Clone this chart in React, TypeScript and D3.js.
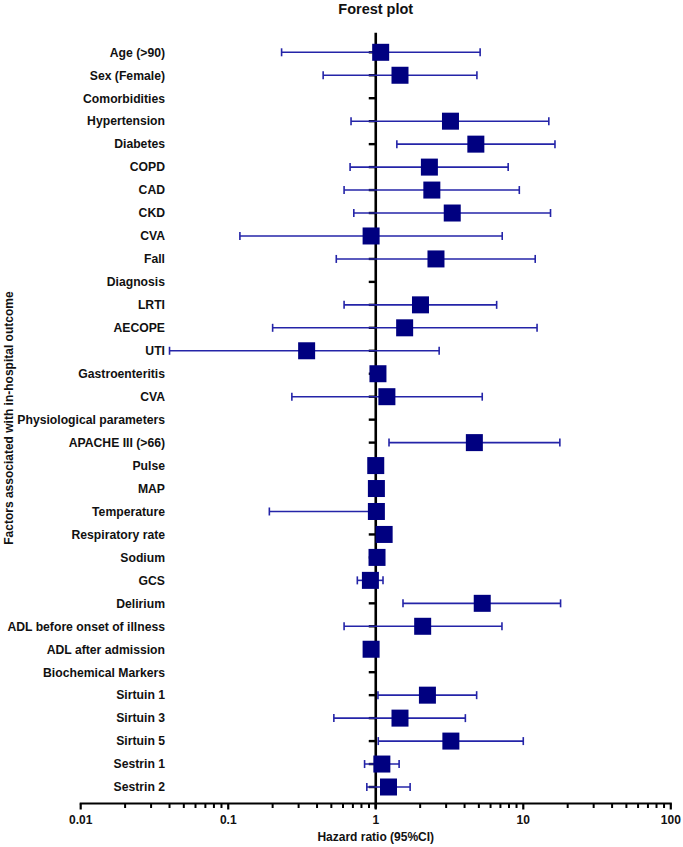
import React from "react";
import * as d3 from "d3";

const labels = [
  "Age (>90)", "Sex (Female)", "Comorbidities", "Hypertension", "Diabetes", "COPD", "CAD", "CKD", "CVA", "Fall",
  "Diagnosis", "LRTI", "AECOPE", "UTI", "Gastroenteritis", "CVA", "Physiological parameters", "APACHE III (>66)",
  "Pulse", "MAP", "Temperature", "Respiratory rate", "Sodium", "GCS", "Delirium", "ADL before onset of illness",
  "ADL after admission", "Biochemical Markers", "Sirtuin 1", "Sirtuin 3", "Sirtuin 5", "Sestrin 1", "Sestrin 2",
];
const hr: (number | null)[] = [
  1.08, 1.46, null, 3.21, 4.77, 2.31, 2.4, 3.3, 0.93, 2.56,
  null, 2.01, 1.57, 0.34, 1.035, 1.19, null, 4.66,
  1.0, 1.01, 1.01, 1.14, 1.02, 0.92, 5.27, 2.08,
  0.93, null, 2.24, 1.46, 3.23, 1.1, 1.22,
];
const lower: (number | null)[] = [
  0.23, 0.44, null, 0.68, 1.39, 0.67, 0.61, 0.71, 0.12, 0.54,
  null, 0.61, 0.2, 0.04, 0.98, 0.27, null, 1.23,
  0.97, 0.98, 0.19, 1.08, 0.98, 0.75, 1.53, 0.61,
  0.89, null, 1.035, 0.52, 1.04, 0.84, 0.87,
];
const upper: (number | null)[] = [
  5.1, 4.85, null, 14.9, 16.4, 7.9, 9.4, 15.3, 7.2, 12.05,
  null, 6.6, 12.4, 2.69, 1.1, 5.27, null, 17.7,
  1.03, 1.05, 1.05, 1.2, 1.06, 1.12, 17.9, 7.17,
  0.98, null, 4.83, 4.05, 10.0, 1.44, 1.71,
];
const xTicks = [0.01, 0.1, 1, 10, 100];
const xTickLabels = ["0.01", "0.1", "1", "10", "100"];

const FONT = "'Liberation Sans', Arial, sans-serif";

export default function App() {
  const W = 683, H = 847;
  const x = d3.scaleLog().domain([0.01, 100]).range([80.7, 670.8]);
  const y = d3.scalePoint<number>().domain(labels.map((_, i) => i)).range([52.3, 787]);
  const axisY = 803.5;
  const lineTop = 32.7;
  const x1 = x(1);
  const minor: number[] = [];
  for (let e = -2; e < 2; e++) {
    for (let m = 2; m <= 9; m++) minor.push(m * Math.pow(10, e));
  }
  const sq = 17;
  const whisk = "#2424a8";
  const fill = "#000080";
  return (
    <svg width={W} height={H} style={{ position: "absolute", left: 0, top: 0, display: "block" }} fontFamily={FONT}>
      <text x={x1} y={14} textAnchor="middle" fontSize={14.5} fontWeight="bold" fill="#111">Forest plot</text>
      {/* y axis line at HR = 1 */}
      <line x1={x1} x2={x1} y1={lineTop} y2={axisY + 5} stroke="#000" strokeWidth={2.6} />
      {labels.map((lab, i) => (
        <g key={i}>
          <line x1={x1 - 7} x2={x1} y1={y(i)!} y2={y(i)!} stroke="#000" strokeWidth={2.4} />
          <text x={165} y={y(i)! + 4.3} textAnchor="end" fontSize={12.2} fontWeight="bold" fill="#111">{lab}</text>
        </g>
      ))}
      {labels.map((_, i) => {
        const v = hr[i];
        const lo = lower[i];
        const hi = upper[i];
        if (v == null || lo == null || hi == null) return null;
        const yy = y(i)!;
        return (
          <g key={"m" + i}>
            <line x1={x(lo)} x2={x(hi)} y1={yy} y2={yy} stroke={whisk} strokeWidth={1.6} />
            <line x1={x(lo)} x2={x(lo)} y1={yy - 4} y2={yy + 4} stroke={whisk} strokeWidth={1.6} />
            <line x1={x(hi)} x2={x(hi)} y1={yy - 4} y2={yy + 4} stroke={whisk} strokeWidth={1.6} />
            <rect x={x(v) - sq / 2} y={yy - sq / 2} width={sq} height={sq} fill={fill} />
          </g>
        );
      })}
      {/* x axis */}
      <line x1={x(0.01) - 1} x2={x(100) + 1} y1={axisY} y2={axisY} stroke="#000" strokeWidth={2.2} />
      {xTicks.map((t) => (
        <line key={"t" + t} x1={x(t)} x2={x(t)} y1={axisY} y2={axisY + 6} stroke="#000" strokeWidth={2.2} />
      ))}
      {minor.map((t, i) => (
        <line key={"mn" + i} x1={x(t)} x2={x(t)} y1={axisY} y2={axisY + 4.5} stroke="#000" strokeWidth={2} />
      ))}
      {xTicks.map((t, i) => (
        <text key={"l" + t} x={x(t)} y={axisY + 20} textAnchor="middle" fontSize={12} fontWeight="bold" fill="#111">{xTickLabels[i]}</text>
      ))}
      <text x={x1} y={axisY + 37} textAnchor="middle" fontSize={12} fontWeight="bold" fill="#111">Hazard ratio (95%CI)</text>
      <text transform={`translate(8.5, ${(lineTop + axisY) / 2}) rotate(-90)`} textAnchor="middle" dy="0.35em" fontSize={12} fontWeight="bold" fill="#111">Factors associated with in-hospital outcome</text>
    </svg>
  );
}
